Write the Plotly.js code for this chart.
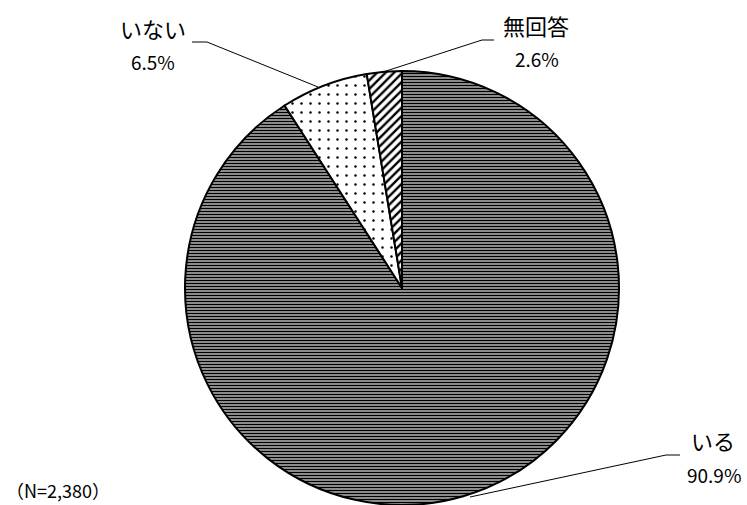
<!DOCTYPE html>
<html>
<head>
<meta charset="utf-8">
<script src="https://cdn.plot.ly/plotly-3.0.1.min.js"></script>
<style>body{margin:0;background:#fff}#chart{width:747px;height:505px}</style>
</head>
<body>
<div id="chart"></div>
<script>
// 回答の内訳
var labels = ['いる', 'いない', '無回答'];
var values = [90.9, 6.5, 2.6];
var pctText = ['90.9%', '6.5%', '2.6%'];
var nText = '（N=2,380）';

var W = 747, H = 505;
var px = function(x){ return x / W; };
var py = function(y){ return 1 - y / H; };
var fontJP = '"Noto Sans CJK JP", "Noto Sans", sans-serif';

var trace = {
    type: 'pie',
    labels: labels,
    values: values,
    sort: false,
    direction: 'clockwise',
    rotation: 0,
    textinfo: 'none',
    hoverinfo: 'label+percent',
    showlegend: false,
    domain: {x: [185 / W, 619 / W], y: [0, 434 / H]},
    marker: {
        colors: ['#999999', '#ffffff', '#ffffff'],
        line: {color: '#000', width: 2},
        pattern: {
            shape: ['-', '.', '/'],
            fgcolor: ['#000', '#000', '#000'],
            bgcolor: ['#a8a8a8', '#ffffff', '#ffffff'],
            size: [3, 9, 6],
            solidity: [0.45, 0.06, 0.4]
        }
    }
};

// ラベル位置(ピクセル): ラベルx, y, 割合x, y
var labelPos = [[713, 440, 714, 474], [153, 28, 153, 61], [536, 25, 537, 59]];
var leader = [
    [[680, 455], [666, 455], [470, 497]],
    [[192, 42], [207, 42], [318, 87]],
    [[494, 40], [482, 40], [383, 72]]
];

var annotations = [];
var shapes = [];
for (var i = 0; i < labels.length; i++) {
    annotations.push({
        x: px(labelPos[i][0]), y: py(labelPos[i][1]), xref: 'paper', yref: 'paper',
        text: labels[i], showarrow: false, xanchor: 'center', yanchor: 'middle',
        font: {family: fontJP, size: 22, color: '#000'}
    });
    annotations.push({
        x: px(labelPos[i][2]), y: py(labelPos[i][3]), xref: 'paper', yref: 'paper',
        text: pctText[i], showarrow: false, xanchor: 'center', yanchor: 'middle',
        font: {family: fontJP, size: 19, color: '#000'}
    });
    var p = leader[i];
    shapes.push({
        type: 'path', xref: 'paper', yref: 'paper',
        path: 'M' + px(p[0][0]) + ',' + py(p[0][1]) + ' L' + px(p[1][0]) + ',' + py(p[1][1]) +
              ' L' + px(p[2][0]) + ',' + py(p[2][1]),
        line: {color: '#000', width: 1}
    });
}
annotations.push({
    x: px(4), y: py(490), xref: 'paper', yref: 'paper', text: nText, showarrow: false,
    xanchor: 'left', yanchor: 'middle', font: {family: fontJP, size: 18, color: '#000'}
});

var layout = {
    width: W, height: H,
    margin: {l: 0, r: 0, t: 0, b: 0},
    paper_bgcolor: '#fff',
    annotations: annotations,
    shapes: shapes
};

Plotly.newPlot('chart', [trace], layout, {displayModeBar: false, staticPlot: true});
</script>
</body>
</html>
